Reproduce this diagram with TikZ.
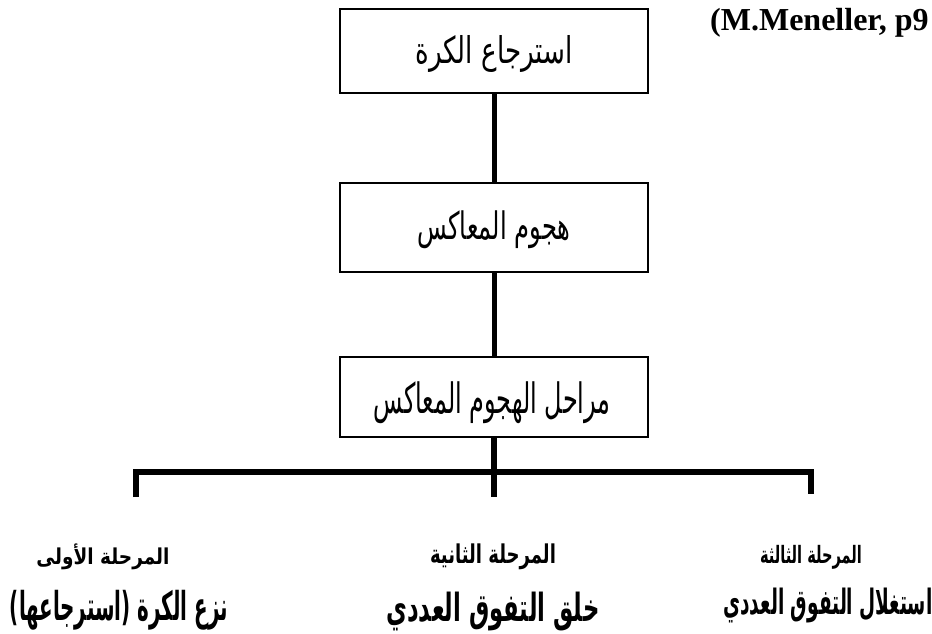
\documentclass[tikz,border=0pt]{standalone}
\usepackage{fontspec}
\usepackage{graphicx}
\setmainfont{Liberation Serif}
\newfontfamily\arabicfont[Script=Arabic]{DejaVu Sans}
\TeXXeTstate=1
\begin{document}
\begin{tikzpicture}[x=1pt,y=-1pt,
  box/.style={draw, line width=1.8pt, minimum width=308pt, inner sep=0pt},
  conn/.style={line width=5pt},
  bar/.style={line width=5.5pt, miter limit=10},
  lbl/.style={inner sep=0pt}]
\useasboundingbox (0,0) rectangle (932,633);
\node[box, minimum height=84pt] (b1) at (494,51) {};
\node[box, minimum height=89pt] (b2) at (494,227.5) {};
\node[box, minimum height=80pt] (b3) at (494,397) {};
\node[lbl] (t1) at (494,54) {\resizebox*{157pt}{37pt}{\arabicfont\beginR استرجاع الكرة\endR}};
\node[lbl] (t2) at (494,230) {\resizebox*{153pt}{38pt}{\arabicfont\beginR هجوم المعاكس\endR}};
\node[lbl] (t3) at (492,403) {\resizebox*{237pt}{42pt}{\arabicfont\beginR مراحل الهجوم المعاكس\endR}};
\draw[conn] (b1) -- (b2);
\draw[conn] (b2) -- (b3);
\coordinate (lt) at (136,472);
\coordinate (rt) at (811,472);
\coordinate (lb) at (136,497);
\coordinate (mb) at (494,497);
\coordinate (rb) at (811,494);
\draw[bar] (lb) -- (lt) -- (rt) -- (rb);
\draw[bar] (b3) -- (mb);
\node[lbl] (p1) at (103,557) {\resizebox*{133pt}{26pt}{\arabicfont\bfseries\beginR المرحلة الأولى\endR}};
\node[lbl] (p2) at (493,557) {\resizebox*{126pt}{26pt}{\arabicfont\bfseries\beginR المرحلة الثانية\endR}};
\node[lbl] (p3) at (811,557) {\resizebox*{102pt}{24pt}{\arabicfont\bfseries\beginR المرحلة الثالثة\endR}};
\node[lbl] (d1) at (119,610) {\resizebox*{218pt}{40pt}{\arabicfont\bfseries\beginR نزع الكرة (استرجاعها)\endR}};
\node[lbl] (d2) at (493,612) {\resizebox*{213pt}{39pt}{\arabicfont\bfseries\beginR خلق التفوق العددي\endR}};
\node[lbl] (d3) at (828,605) {\resizebox*{209pt}{35pt}{\arabicfont\bfseries\beginR استغلال التفوق العددي\endR}};
\node[anchor=base west, inner sep=0pt, font=\fontsize{32}{36}\selectfont\bfseries] (ref) at (710,30) {(M.Meneller, p9};
\end{tikzpicture}
\end{document}
